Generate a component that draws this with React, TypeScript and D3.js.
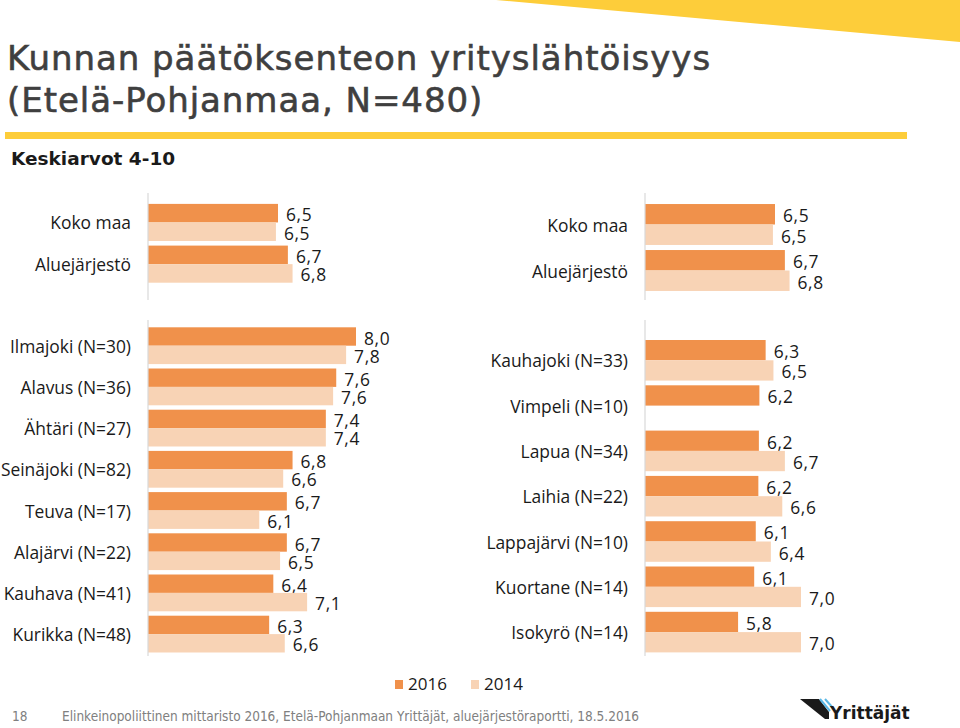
import React from "react";
import * as d3 from "d3";

// ---- data ----
const seriesNames = ["2016", "2014"];
const seriesColors = ["#F0914B", "#F8D3B5"];

const topCategories = ["Koko maa", "Aluejärjestö"];
const top2016 = [6.5, 6.69];
const top2014 = [6.46, 6.78];

const leftCategories = [
  "Ilmajoki (N=30)",
  "Alavus (N=36)",
  "Ähtäri (N=27)",
  "Seinäjoki (N=82)",
  "Teuva (N=17)",
  "Alajärvi (N=22)",
  "Kauhava (N=41)",
  "Kurikka (N=48)",
];
const left2016 = [8.0, 7.62, 7.42, 6.78, 6.67, 6.67, 6.41, 6.33];
const left2014 = [7.81, 7.56, 7.42, 6.6, 6.14, 6.54, 7.06, 6.63];

const rightCategories = [
  "Kauhajoki (N=33)",
  "Vimpeli (N=10)",
  "Lapua (N=34)",
  "Laihia (N=22)",
  "Lappajärvi (N=10)",
  "Kuortane (N=14)",
  "Isokyrö (N=14)",
];
const right2016 = [6.32, 6.2, 6.19, 6.18, 6.13, 6.1, 5.79];
const right2014: (number | null)[] = [6.47, null, 6.69, 6.64, 6.42, 7.0, 7.0];

const scaleDomain = [4, 10];
const titleLines = ["Kunnan päätöksenteon yrityslähtöisyys", "(Etelä-Pohjanmaa, N=480)"];
const subtitle = "Keskiarvot 4-10";
const footerPage = "18";
const footerText =
  "Elinkeinopoliittinen mittaristo 2016, Etelä-Pohjanmaan Yrittäjät, aluejärjestöraportti, 18.5.2016";
const logoText = "Yrittäjät";

const fmt = (v: number) => d3.format(".1f")(v).replace(".", ",");
const LABEL_FONT = "'Open Sans', 'DejaVu Sans', sans-serif";

type PanelProps = {
  categories: string[];
  v2016: (number | null)[];
  v2014: (number | null)[];
  axisX: number;
  labelX: number;
  y0: number;
  y1: number;
  pad: number;
  lineTop: number;
  lineBottom: number;
};

function Panel({ categories, v2016, v2014, axisX, labelX, y0, y1, pad, lineTop, lineBottom }: PanelProps) {
  const x = d3.scaleLinear().domain(scaleDomain).range([axisX, axisX + 6 * 52]);
  const y = d3
    .scaleBand<string>()
    .domain(categories)
    .range([y0, y1])
    .paddingInner(pad)
    .paddingOuter(pad / 2);
  const sub = d3.scaleBand<string>().domain(seriesNames).range([0, y.bandwidth()]);
  const series = [v2016, v2014];
  return (
    <g>
      {categories.map((c, i) => (
        <g key={c}>
          <text
            x={labelX}
            y={(y(c) as number) + y.bandwidth() / 2}
            textAnchor="end"
            dominantBaseline="central"
            fontFamily={LABEL_FONT}
            fontSize={17.4}
            fill="#1a1a1a"
          >
            {c}
          </text>
          {seriesNames.map((s, si) => {
            const v = series[si][i];
            if (v == null) return null;
            const by = (y(c) as number) + (sub(s) as number);
            return (
              <g key={s}>
                <rect
                  x={x(scaleDomain[0])}
                  y={by}
                  width={x(v) - x(scaleDomain[0])}
                  height={sub.bandwidth()}
                  fill={seriesColors[si]}
                />
                <text
                  x={x(v) + 8}
                  y={by + sub.bandwidth() / 2 + 1}
                  dominantBaseline="central"
                  fontFamily={LABEL_FONT}
                  fontSize={17.4}
                  letterSpacing={0.6}
                  fill="#1a1a1a"
                >
                  {fmt(v)}
                </text>
              </g>
            );
          })}
        </g>
      ))}
      <line x1={axisX} x2={axisX} y1={lineTop} y2={lineBottom} stroke="#D9D9D9" strokeWidth={1.2} />
    </g>
  );
}

export default function App() {
  return (
    <svg
      width={960}
      height={728}
      style={{ position: "absolute", left: 0, top: 0, background: "#fff" }}
    >
      <rect x={0} y={0} width={960} height={728} fill="#fff" />
      <polygon points="496,0 960,0 960,42" fill="#FDCD3A" />
      {titleLines.map((t, i) => (
        <text
          key={i}
          x={7}
          y={70 + i * 42}
          fontFamily="'DejaVu Sans', sans-serif"
          fontSize={34}
          letterSpacing={0.95}
          stroke="#3F3F3F"
          strokeWidth={0.6}
          fill="#3F3F3F"
        >
          {t}
        </text>
      ))}
      <rect x={5} y={132} width={902} height={7} fill="#FDCD3A" />
      <text x={11} y={165} fontFamily="'DejaVu Sans', sans-serif" fontWeight="bold" fontSize={18.5} fill="#1a1a1a">
        {subtitle}
      </text>

      <Panel
        categories={topCategories}
        v2016={top2016}
        v2014={top2014}
        axisX={148}
        labelX={131}
        y0={201.6}
        y1={285}
        pad={0.11}
        lineTop={193}
        lineBottom={300}
      />
      <Panel
        categories={topCategories}
        v2016={top2016}
        v2014={top2014}
        axisX={645}
        labelX={628}
        y0={201.5}
        y1={293.5}
        pad={0.11}
        lineTop={193}
        lineBottom={300}
      />
      <Panel
        categories={leftCategories}
        v2016={left2016}
        v2014={left2014}
        axisX={148}
        labelX={131}
        y0={325.1}
        y1={654.7}
        pad={0.107}
        lineTop={320}
        lineBottom={656}
      />
      <Panel
        categories={rightCategories}
        v2016={right2016}
        v2014={right2014}
        axisX={645}
        labelX={628}
        y0={337.65}
        y1={654.75}
        pad={0.104}
        lineTop={320}
        lineBottom={656}
      />

      {/* legend */}
      {seriesNames.map((s, i) => (
        <g key={s} transform={`translate(${395 + i * 76},0)`}>
          <rect x={0} y={680} width={8} height={9} fill={seriesColors[i]} />
          <text x={13} y={690} fontFamily={LABEL_FONT} fontSize={17} fill="#1a1a1a">
            {s}
          </text>
        </g>
      ))}

      {/* footer */}
      <text x={12} y={721} fontFamily="'DejaVu Sans Condensed', 'DejaVu Sans', sans-serif" fontSize={13.5} fill="#808080">
        {footerPage}
      </text>
      <text x={62} y={721} fontFamily="'DejaVu Sans Condensed', 'DejaVu Sans', sans-serif" fontSize={13.5} fill="#808080">
        {footerText}
      </text>

      {/* logo */}
      <g>
        <polygon points="800,699 819,699 829,712 829,719 825,719" fill="#1a1a1a" />
        <line x1={820} y1={699} x2={830} y2={711} stroke="#5BB8E6" strokeWidth={2} />
        <line x1={825} y1={699} x2={833} y2={708} stroke="#5BB8E6" strokeWidth={2} />
        <text x={830} y={719} fontFamily="'DejaVu Sans', sans-serif" fontWeight="bold" fontSize={17} fill="#1a1a1a">
          {logoText}
        </text>
      </g>
    </svg>
  );
}
